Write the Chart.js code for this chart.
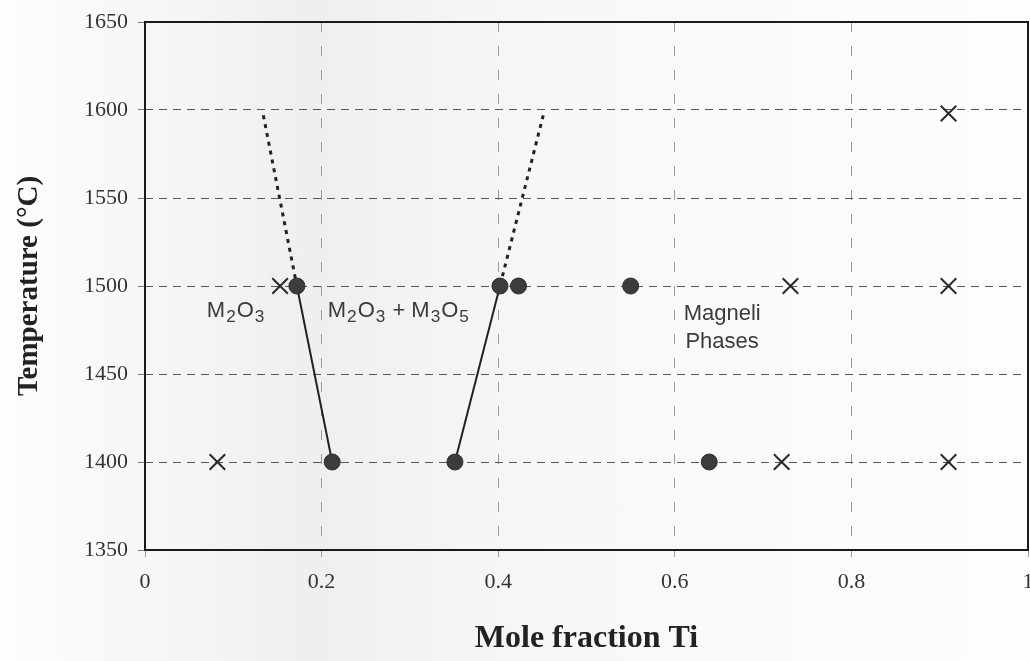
<!DOCTYPE html>
<html>
<head>
<meta charset="utf-8">
<script src="https://cdn.jsdelivr.net/npm/chart.js@4.4.1/dist/chart.umd.min.js"></script>
<style>
  html, body { margin: 0; padding: 0; }
  body { width: 1030px; height: 661px; background: linear-gradient(90deg, #fdfdfd 0%, #f5f5f5 18%, #efefef 30%, #f8f8f8 55%, #fdfdfd 100%); }
  #wrap { position: relative; width: 1030px; height: 661px; }
</style>
</head>
<body>
<div id="wrap"><canvas id="c" width="1030" height="661"></canvas></div>
<script>
// ---- data ----
const xTicks = [0, 0.2, 0.4, 0.6, 0.8, 1];
const yTicks = [1350, 1400, 1450, 1500, 1550, 1600, 1650];

// single-phase / boundary compositions (filled circles)
const circleX = [0.172, 0.402, 0.423, 0.550, 0.212, 0.351, 0.639];
const circleT = [1500, 1500, 1500, 1500, 1400, 1400, 1400];

// other samples (crosses)
const crossX = [0.153, 0.731, 0.910, 0.082, 0.721, 0.910, 0.910];
const crossT = [1500, 1500, 1500, 1400, 1400, 1400, 1598];

// phase boundaries
const leftSolidX = [0.172, 0.212];
const leftSolidT = [1500, 1400];
const rightSolidX = [0.402, 0.351];
const rightSolidT = [1500, 1400];
const leftDottedX = [0.134, 0.172];
const leftDottedT = [1597, 1500];
const rightDottedX = [0.451, 0.402];
const rightDottedT = [1597, 1500];

// region labels
const regionLabels = ['M2O3', 'M2O3 + M3O5', 'Magneli', 'Phases'];

const pts = (xs, ys) => xs.map((x, i) => ({ x: x, y: ys[i] }));

// draws text where digits become subscripts
function drawRich(ctx, text, x, y, size) {
  let cx = x;
  for (const ch of text) {
    if (/[0-9]/.test(ch)) {
      ctx.font = (size * 0.78) + 'px "Liberation Sans", Arial, sans-serif';
      ctx.fillText(ch, cx + 1, y + size * 0.3);
      cx += ctx.measureText(ch).width + 2;
    } else {
      ctx.font = size + 'px "Liberation Sans", Arial, sans-serif';
      ctx.fillText(ch, cx, y);
      cx += ctx.measureText(ch).width;
    }
  }
}

const boxPlugin = {
  id: 'boxPlugin',
  afterDatasetsDraw(chart) {
    const { ctx, chartArea: a, scales } = chart;
    ctx.save();
    ctx.strokeStyle = '#1a1a1a';
    ctx.lineWidth = 2;
    ctx.strokeRect(a.left, a.top, a.right - a.left, a.bottom - a.top);
    ctx.fillStyle = '#3a3a3a';
    ctx.textBaseline = 'middle';
    ctx.textAlign = 'left';
    const X = v => scales.x.getPixelForValue(v);
    const Y = v => scales.y.getPixelForValue(v);
    drawRich(ctx, regionLabels[0], X(0.070), Y(1486), 22);
    drawRich(ctx, regionLabels[1], X(0.207), Y(1486), 22);
    drawRich(ctx, regionLabels[2], X(0.610), Y(1484), 22);
    drawRich(ctx, regionLabels[3], X(0.612), Y(1468), 22);
    ctx.restore();
  }
};

const lineDs = (label, xs, ys, dash, width) => ({
  type: 'line', label: label, data: pts(xs, ys),
  borderColor: '#222', borderWidth: width, borderDash: dash,
  pointRadius: 0, fill: false, showLine: true, order: 2
});

const serif = '"Liberation Serif", "Times New Roman", serif';

new Chart(document.getElementById('c'), {
  type: 'scatter',
  data: {
    datasets: [
      lineDs('left solid', leftSolidX, leftSolidT, [], 2),
      lineDs('right solid', rightSolidX, rightSolidT, [], 2),
      lineDs('left dotted', leftDottedX, leftDottedT, [4, 5], 3),
      lineDs('right dotted', rightDottedX, rightDottedT, [4, 5], 3),
      { label: 'circles', data: pts(circleX, circleT), pointStyle: 'circle', pointRadius: 8,
        backgroundColor: '#3c3c3c', borderColor: '#2e2e2e', borderWidth: 1, order: 1 },
      { label: 'crosses', data: pts(crossX, crossT), pointStyle: 'crossRot', pointRadius: 11,
        borderColor: '#2a2a2a', borderWidth: 2, order: 1 }
    ]
  },
  options: {
    responsive: false,
    animation: false,
    layout: { autoPadding: false, padding: { top: 22, right: 2, left: 12, bottom: 3 } },
    plugins: { legend: { display: false }, tooltip: { enabled: false } },
    scales: {
      x: {
        type: 'linear', min: 0, max: 1,
        afterBuildTicks: s => { s.ticks = xTicks.map(v => ({ value: v })); },
        ticks: { callback: v => String(v), color: '#333',
                 font: { family: serif, size: 22 }, padding: 12, maxRotation: 0 },
        grid: { color: '#9a9a9a', lineWidth: 1, tickLength: 7, tickColor: '#9a9a9a' },
        border: { display: false, dash: [10, 14] },
        title: { display: true, text: 'Mole fraction Ti', color: '#222',
                 font: { family: serif, size: 32, weight: 'bold' },
                 padding: { top: 10, bottom: 0 } },
        afterFit: s => { s.height = 108; s.paddingLeft = 0; s.paddingRight = 0; }
      },
      y: {
        type: 'linear', min: 1350, max: 1650,
        afterBuildTicks: s => { s.ticks = yTicks.map(v => ({ value: v })); },
        ticks: { callback: v => String(v), color: '#333',
                 font: { family: serif, size: 22 }, padding: 10 },
        grid: { color: '#555', lineWidth: 1, tickLength: 7, tickColor: '#777' },
        border: { display: false, dash: [8, 6] },
        title: { display: true, text: 'Temperature (°C)', color: '#222',
                 font: { family: serif, size: 29, weight: 'bold' },
                 padding: { top: 0, bottom: 10 } },
        afterFit: s => { s.width = 133; s.paddingTop = 0; s.paddingBottom = 0; }
      }
    }
  },
  plugins: [boxPlugin]
});
</script>
</body>
</html>
